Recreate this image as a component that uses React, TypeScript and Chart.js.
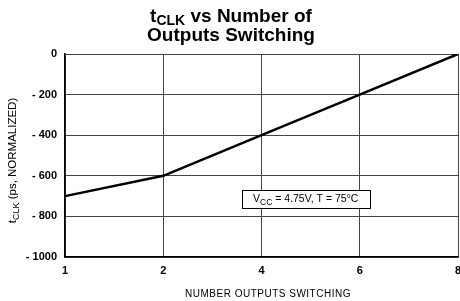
import React, { useEffect, useRef } from "react";
import { Chart, registerables } from "chart.js";

Chart.register(...registerables);

const categories = ["1", "2", "4", "6", "8"];
const tclkValues = [-700, -600, -400, -200, 0];
const yTicks = [0, -200, -400, -600, -800, -1000];

const FONT = "'Liberation Sans', Arial, sans-serif";

function drawSub(ctx: CanvasRenderingContext2D, parts: { t: string; sub?: boolean }[], x: number, y: number, size: number, weight: string, subSize: number, subDy: number, align: "center" | "left") {
  let total = 0;
  const widths: number[] = [];
  for (const p of parts) {
    ctx.font = `${weight} ${p.sub ? subSize : size}px ${FONT}`;
    const w = ctx.measureText(p.t).width;
    widths.push(w);
    total += w;
  }
  let cx = align === "center" ? x - total / 2 : x;
  parts.forEach((p, i) => {
    ctx.font = `${weight} ${p.sub ? subSize : size}px ${FONT}`;
    ctx.textAlign = "left";
    ctx.textBaseline = "alphabetic";
    ctx.fillText(p.t, cx, p.sub ? y + subDy : y);
    cx += widths[i];
  });
  return total;
}

const decorPlugin = {
  id: "decor",
  afterDraw(chart: any) {
    const ctx: CanvasRenderingContext2D = chart.ctx;
    const { chartArea, scales } = chart;
    ctx.save();
    ctx.fillStyle = "#000";
    // Title
    drawSub(ctx, [{ t: "t" }, { t: "CLK", sub: true }, { t: " vs Number of" }], 231, 22, 19, "bold", 14, 3, "center");
    drawSub(ctx, [{ t: "Outputs Switching" }], 231, 41, 19, "bold", 14, 3, "center");

    // Y axis title
    ctx.save();
    ctx.translate(16, (chartArea.top + chartArea.bottom) / 2 + 5);
    ctx.rotate(-Math.PI / 2);
    drawSub(ctx, [{ t: "t", }, { t: "CLK", sub: true }, { t: " (ps, NORMALIZED)" }], 0, 0, 11.5, "normal", 9, 3, "center");
    ctx.restore();

    // X axis title
    ctx.font = `normal 10px ${FONT}`;
    ctx.textAlign = "center";
    ctx.textBaseline = "alphabetic";
    (ctx as any).letterSpacing = "0.5px";
    ctx.fillText("NUMBER OUTPUTS SWITCHING", 268, 297);
    (ctx as any).letterSpacing = "0px";

    // Annotation box
    const xs = scales.x;
    const ys = scales.y;
    const cx = xs.getPixelForValue(2) + (xs.getPixelForValue(3) - xs.getPixelForValue(2)) * 0.45;
    const cy = ys.getPixelForValue(-715);
    const bw = 128;
    const bh = 18;
    ctx.fillStyle = "#fff";
    ctx.fillRect(cx - bw / 2, cy - bh / 2, bw, bh);
    ctx.strokeStyle = "#000";
    ctx.lineWidth = 1;
    ctx.strokeRect(Math.round(cx - bw / 2) + 0.5, Math.round(cy - bh / 2) + 0.5, bw, bh);
    ctx.fillStyle = "#000";
    drawSub(ctx, [{ t: "V" }, { t: "CC", sub: true }, { t: " = 4.75V, T = 75°C" }], cx, cy + 3, 10.5, "normal", 8.5, 3, "center");
    ctx.restore();
  },
};

export default function App() {
  const ref = useRef<HTMLCanvasElement>(null);
  useEffect(() => {
    if (!ref.current) return;
    const chart = new Chart(ref.current, {
      type: "line",
      data: {
        labels: categories,
        datasets: [
          {
            data: tclkValues,
            borderColor: "#000",
            borderWidth: 2.5,
            pointRadius: 0,
            tension: 0,
            fill: false,
          },
        ],
      },
      options: {
        animation: false,
        responsive: false,
        maintainAspectRatio: false,
        layout: { padding: { top: 54, right: 2, left: 0, bottom: 0 } },
        plugins: {
          legend: { display: false },
          title: { display: false },
          tooltip: { enabled: false },
        },
        scales: {
          x: {
            type: "category",
            offset: false,
            grid: { color: "#444", lineWidth: 1, drawTicks: false },
            border: { color: "#000", width: 1.5 },
            ticks: {
              color: "#000",
              padding: 7,
              font: { family: FONT, size: 11, weight: "bold" },
              maxRotation: 0,
              autoSkip: false,
            },
            afterFit(scale: any) {
              scale.height = 44;
              scale.paddingLeft = 0;
              scale.paddingRight = 0;
            },
          },
          y: {
            min: -1000,
            max: 0,
            afterBuildTicks(scale: any) {
              scale.ticks = yTicks.map((v) => ({ value: v }));
            },
            grid: { color: "#444", lineWidth: 1, drawTicks: false },
            border: { color: "#000", width: 1.5 },
            ticks: {
              color: "#000",
              padding: 8,
              font: { family: FONT, size: 11, weight: "bold" },
              callback: (v: any) => (v < 0 ? "- " + Math.abs(v) : String(v)),
            },
            afterFit(scale: any) {
              scale.width = 65;
              scale.paddingTop = 0;
              scale.paddingBottom = 0;
            },
          },
        },
      },
      plugins: [decorPlugin],
    });
    return () => chart.destroy();
  }, []);
  return (
    <div style={{ position: "absolute", left: 0, top: 0, width: 460, height: 301, background: "#fff" }}>
      <canvas ref={ref} width={460} height={301} style={{ display: "block" }} />
    </div>
  );
}
